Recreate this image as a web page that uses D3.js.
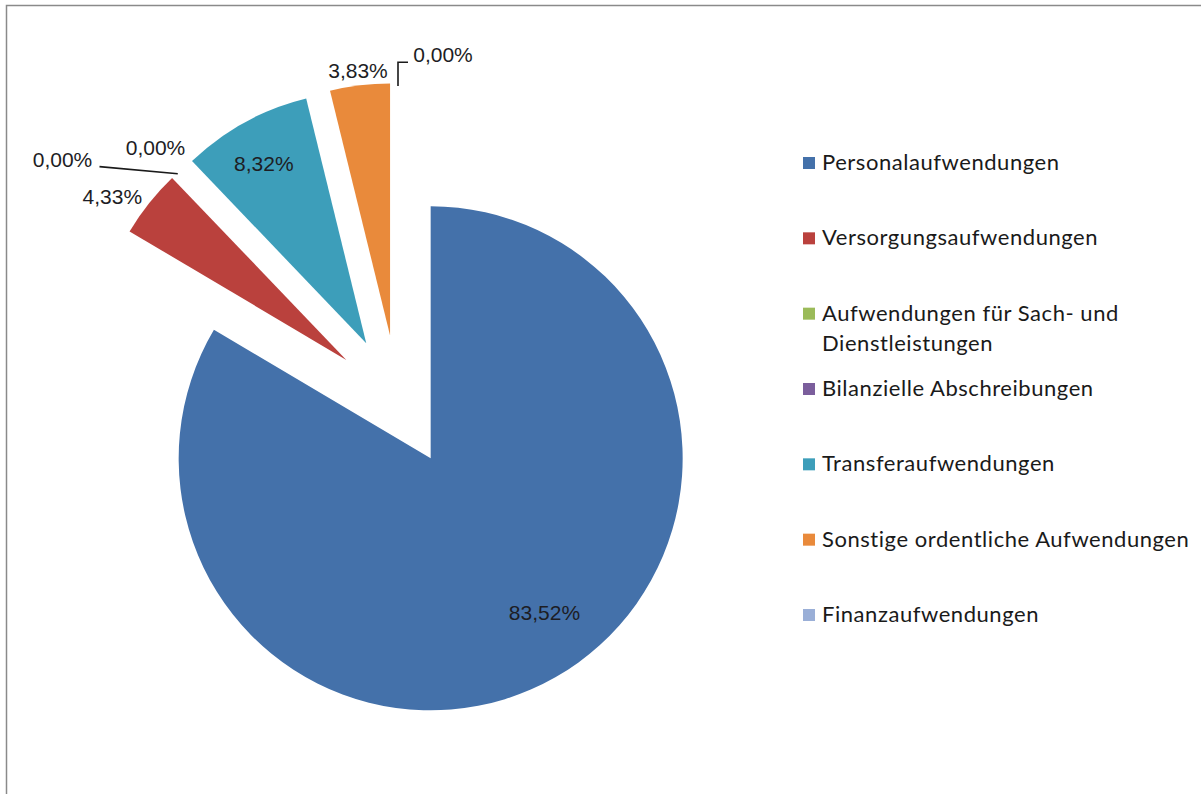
<!doctype html>
<html>
<head>
    <meta charset="utf-8">
    <script src="https://d3js.org/d3.v7.min.js"></script>
    <style>
      body { margin: 0; background: #fff; }
      svg { display: block; }
    </style>
</head>
<body>
    <svg id="pie-chart" width="1201" height="794"></svg>
    <script>
        // Aufwendungen (Anteile in %)
        const categories = [
          "Personalaufwendungen",
          "Versorgungsaufwendungen",
          "Aufwendungen für Sach- und Dienstleistungen",
          "Bilanzielle Abschreibungen",
          "Transferaufwendungen",
          "Sonstige ordentliche Aufwendungen",
          "Finanzaufwendungen"
        ];
        const shares = [83.52, 4.33, 0.00, 0.00, 8.32, 3.83, 0.00];
        const colors = ["#4471aa", "#ba413d", "#9bbb59", "#7b5e9c", "#3d9eba", "#e98a3b", "#9aafd7"];
        // legend lines (wrapped as in the original)
        const legendLines = [
          ["Personalaufwendungen"],
          ["Versorgungsaufwendungen"],
          ["Aufwendungen für Sach- und", "Dienstleistungen"],
          ["Bilanzielle Abschreibungen"],
          ["Transferaufwendungen"],
          ["Sonstige ordentliche Aufwendungen"],
          ["Finanzaufwendungen"]
        ];

        const cx = 398, cy = 401;
        const radius = 252;
        const explode = 66;

        // label placement: radius factor along slice mid angle + nudge
        const labelStyle = [
          { r: 0.76, dx: 19, dy: -12 },
          { r: 1.13, dx: -11, dy: 14 },
          { r: 1.13, dx: 0, dy: 0 },
          { r: 1.13, dx: -93, dy: 12, leader: "line" },
          { r: 0.82, dx: -3, dy: 1 },
          { r: 1.06, dx: 0, dy: 0 },
          { r: 1.13, dx: 45, dy: 4, leader: "elbow" }
        ];

        const svg = d3.select("#pie-chart");

        // chart frame
        svg.append("rect")
          .attr("x", 6.5).attr("y", 5.5)
          .attr("width", 1300).attr("height", 900)
          .attr("fill", "#fff")
          .attr("stroke", "#8a8a8a")
          .attr("stroke-width", 1.5);

        const pie = d3.pie().sort(null).value(d => d)
          .startAngle(0).endAngle(2 * Math.PI);
        const arcs = pie(shares);

        const arc = d3.arc().innerRadius(0).outerRadius(radius);

        const polar = (a, r) => [r * Math.sin(a), -r * Math.cos(a)];
        const mid = d => (d.startAngle + d.endAngle) / 2;
        const apex = d => polar(mid(d), explode);

        const g = svg.append("g").attr("transform", `translate(${cx},${cy})`);

        // slices, each pushed out along its mid angle
        g.selectAll("path.slice")
          .data(arcs)
          .join("path")
          .attr("class", "slice")
          .attr("transform", d => `translate(${apex(d)})`)
          .attr("d", arc)
          .attr("fill", (d, i) => colors[i]);

        // data labels
        const fmt = v => v.toFixed(2).replace(".", ",") + "%";
        const labelPos = (d, i) => {
          const s = labelStyle[i];
          const a = apex(d), p = polar(mid(d), radius * s.r);
          return [a[0] + p[0] + s.dx, a[1] + p[1] + s.dy];
        };

        arcs.forEach((d, i) => {
          const s = labelStyle[i];
          const [lx, ly] = labelPos(d, i);
          const a = apex(d);
          if (s.leader === "line") {
            const p = polar(mid(d), radius + 2);
            g.append("line")
              .attr("x1", a[0] + p[0] + 1).attr("y1", a[1] + p[1] + 4)
              .attr("x2", lx + 37).attr("y2", ly + 7)
              .attr("stroke", "#1a1a1a").attr("stroke-width", 1.6);
          } else if (s.leader === "elbow") {
            const p = polar(mid(d), radius - 3);
            g.append("path")
              .attr("d", `M${a[0] + p[0]},${a[1] + p[1]} V${ly + 8} H${lx - 35}`)
              .attr("fill", "none")
              .attr("stroke", "#1a1a1a").attr("stroke-width", 1.6);
          }
          g.append("text")
            .attr("x", lx).attr("y", ly)
            .attr("text-anchor", "middle")
            .attr("dominant-baseline", "central")
            .attr("font-family", "'Liberation Sans', Arial, sans-serif")
            .attr("font-size", 21)
            .attr("fill", "#1d1d24")
            .text(fmt(shares[i]));
        });

        // legend
        const legendY = d3.scalePoint()
          .domain(categories)
          .range([163, 615]);

        const legend = svg.append("g")
          .selectAll("g")
          .data(categories)
          .join("g")
          .attr("transform", d => `translate(803,${legendY(d)})`);

        legend.append("rect")
          .attr("x", 0).attr("y", -6)
          .attr("width", 12).attr("height", 12)
          .attr("fill", (d, i) => colors[i]);

        legend.append("text")
          .attr("x", 19).attr("y", 7)
          .attr("font-family", "Lato, 'Open Sans', sans-serif")
          .attr("font-size", 22)
          .attr("letter-spacing", 0.55)
          .attr("fill", "#1a1a1a")
          .selectAll("tspan")
          .data((d, i) => legendLines[i])
          .join("tspan")
          .attr("x", 19)
          .attr("dy", (d, j) => j === 0 ? 0 : 30)
          .text(d => d);
    </script>
</body>
</html>
